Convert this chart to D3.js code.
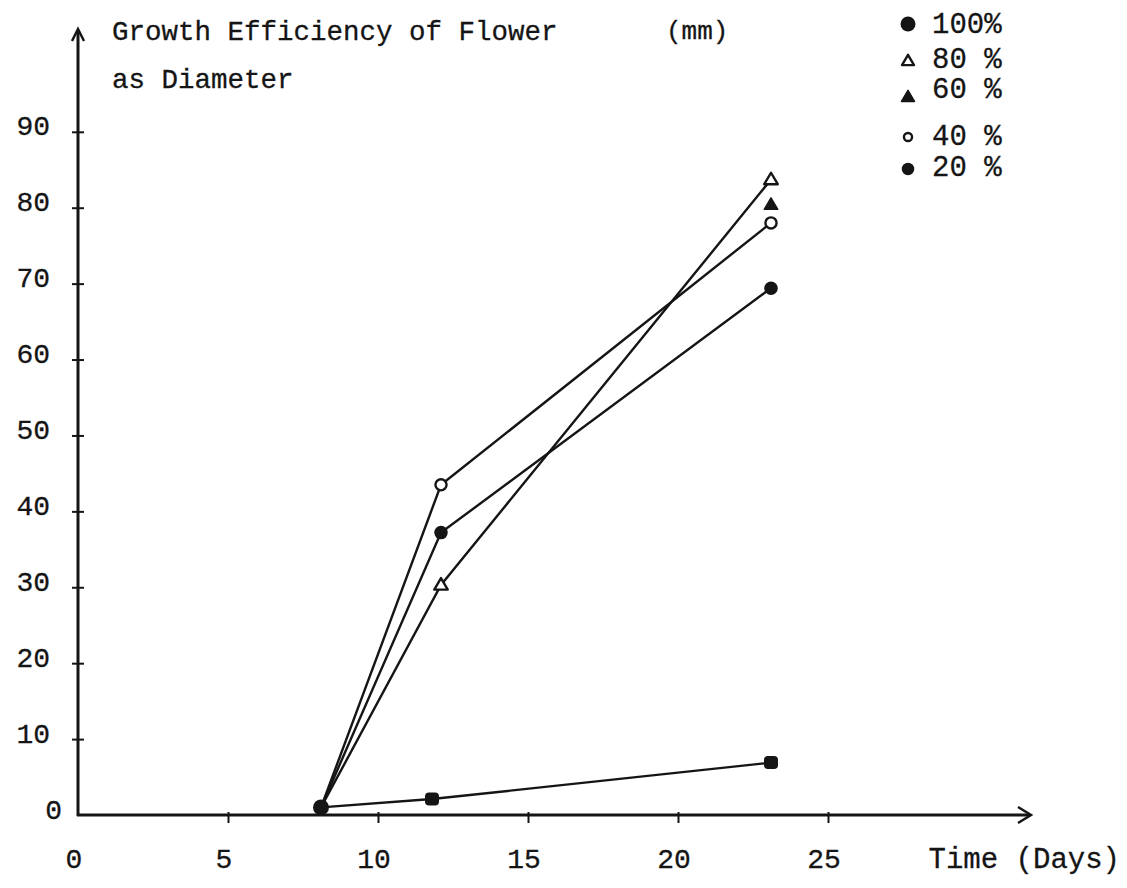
<!DOCTYPE html>
<html>
<head>
<meta charset="utf-8">
<script src="https://cdn.jsdelivr.net/npm/d3@7"></script>
<style>
  body { margin: 0; background: #fff; }
  svg text { font-family: "Liberation Mono", "Courier New", monospace; fill: #151515; stroke: #151515; stroke-width: 0.3; }
</style>
</head>
<body>
<svg id="chart" width="1127" height="888"></svg>
<script>
// Sampling days (x) and flower diameter in mm (y) for each treatment
const days = [8.1, 12.1, 23.1];
const days20 = [8.1, 11.8, 23.1];
const values100 = [1, 37.2, 69.4];
const values80 = [1, 30.3, 83.7];
const values60 = [1, null, 80.4];
const values40 = [1, 43.5, 78.0];
const values20 = [1, 2.1, 6.9];

const seriesLabels = ["100%", "80 %", "60 %", "40 %", "20 %"];
const xTickValues = [0, 5, 10, 15, 20, 25];
const yTickValues = [0, 10, 20, 30, 40, 50, 60, 70, 80, 90];
const titleLines = ["Growth Efficiency of Flower", "as Diameter"];
const unitLabel = "(mm)";
const xAxisLabel = "Time (Days)";

const ink = "#151515";
const svg = d3.select("#chart");

const x = d3.scaleLinear().domain([0, 25]).range([78, 828]);
const y = d3.scaleLinear().domain([0, 90]).range([815, 131.8]);

const series = [
  { name: seriesLabels[0], xs: days,   vals: values100, shape: "dot",   line: true },
  { name: seriesLabels[1], xs: days,   vals: values80,  shape: "otri",  line: true },
  { name: seriesLabels[2], xs: days,   vals: values60,  shape: "ftri",  line: false },
  { name: seriesLabels[3], xs: days,   vals: values40,  shape: "ocirc", line: true },
  { name: seriesLabels[4], xs: days20, vals: values20,  shape: "sq",    line: true }
];

// ---- axes ----
const x0 = x(0), y0 = y(0);

// y axis with crossing ticks
const yAxis = d3.axisLeft(y).tickValues(yTickValues.filter(d => d > 0)).tickSize(6).tickFormat("");
const gy = svg.append("g").attr("transform", `translate(${x0},0)`).call(yAxis);
gy.select(".domain").remove();
gy.selectAll(".tick line").attr("x1", 6).attr("x2", -6).attr("stroke", ink).attr("stroke-width", 2);

svg.append("line").attr("x1", x0).attr("y1", y0 + 1).attr("x2", x0).attr("y2", 30)
  .attr("stroke", ink).attr("stroke-width", 3);
svg.append("path").attr("d", `M${x0 - 6},${41} L${x0},${29} L${x0 + 6},${41}`)
  .attr("fill", "none").attr("stroke", ink).attr("stroke-width", 2.5);

// y tick labels
svg.append("g").selectAll("text").data(yTickValues).join("text")
  .attr("x", d => d === 0 ? x0 - 16 : x0 - 28)
  .attr("y", d => y(d) - 4)
  .attr("text-anchor", "end")
  .attr("dominant-baseline", "central")
  .attr("font-size", 28)
  .text(d => d);

// x axis
const xAxis = d3.axisBottom(x).tickValues(xTickValues.filter(d => d > 0)).tickSize(8).tickFormat("");
const gx = svg.append("g").attr("transform", `translate(0,${y0})`).call(xAxis);
gx.select(".domain").remove();
gx.selectAll(".tick line").attr("y1", -3).attr("stroke", ink).attr("stroke-width", 2);

svg.append("line").attr("x1", x0 - 1).attr("y1", y0).attr("x2", 1030).attr("y2", y0)
  .attr("stroke", ink).attr("stroke-width", 3);
svg.append("path").attr("d", `M${1018},${y0 - 8} L${1031},${y0} L${1018},${y0 + 8}`)
  .attr("fill", "none").attr("stroke", ink).attr("stroke-width", 2.5);

svg.append("g").selectAll("text").data(xTickValues).join("text")
  .attr("x", d => x(d) - 4)
  .attr("y", 860)
  .attr("text-anchor", "middle")
  .attr("dominant-baseline", "central")
  .attr("font-size", 28)
  .text(d => d);

svg.append("text").attr("x", 1120).attr("y", 860)
  .attr("text-anchor", "end").attr("dominant-baseline", "central")
  .attr("font-size", 29).text(xAxisLabel);

// ---- titles ----
svg.append("text").attr("x", 112).attr("y", 32).attr("dominant-baseline", "central")
  .attr("font-size", 27.5).text(titleLines[0]);
svg.append("text").attr("x", 666).attr("y", 32).attr("dominant-baseline", "central")
  .attr("font-size", 26).text(unitLabel);
svg.append("text").attr("x", 112).attr("y", 80).attr("dominant-baseline", "central")
  .attr("font-size", 27.5).text(titleLines[1]);

// ---- series lines ----
const line = d3.line()
  .defined(d => d.v != null)
  .x(d => x(d.t))
  .y(d => y(d.v));

series.filter(s => s.line).forEach(s => {
  const pts = s.xs.map((t, i) => ({ t, v: s.vals[i] }));
  svg.append("path").datum(pts).attr("d", line)
    .attr("fill", "none").attr("stroke", ink).attr("stroke-width", 2.4);
});

// ---- markers ----
function triPath(cx, cy, w) {
  const h = w * 0.85;
  return `M${cx},${cy - h * 0.6} L${cx + w / 2},${cy + h * 0.4} L${cx - w / 2},${cy + h * 0.4} Z`;
}

function drawMarker(g, shape, cx, cy, size) {
  if (shape === "dot") {
    g.append("circle").attr("cx", cx).attr("cy", cy).attr("r", size / 2).attr("fill", ink);
  } else if (shape === "ocirc") {
    g.append("circle").attr("cx", cx).attr("cy", cy).attr("r", size / 2 - 1.2)
      .attr("fill", "#fff").attr("stroke", ink).attr("stroke-width", 2.4);
  } else if (shape === "otri") {
    g.append("path").attr("d", triPath(cx, cy, size))
      .attr("fill", "#fff").attr("stroke", ink).attr("stroke-width", 2.4).attr("stroke-linejoin", "round");
  } else if (shape === "ftri") {
    g.append("path").attr("d", triPath(cx, cy, size))
      .attr("fill", ink).attr("stroke", ink).attr("stroke-width", 1.5).attr("stroke-linejoin", "round");
  } else if (shape === "sq") {
    g.append("rect").attr("x", cx - size / 2).attr("y", cy - size / 2 + 0.5)
      .attr("width", size).attr("height", size - 1).attr("rx", 4).attr("fill", ink);
  }
}

const gm = svg.append("g");
series.forEach(s => {
  s.vals.forEach((v, i) => {
    if (v == null || i === 0) return;
    drawMarker(gm, s.shape, x(s.xs[i]), y(v), s.shape === "sq" ? 14 : 13.5);
  });
});
// common starting point shared by all treatments
drawMarker(gm, "dot", x(days[0]), y(values100[0]), 16);

// ---- legend ----
const legendRows = [
  { shape: "dot", y: 24, tx: 25, size: 15 },
  { shape: "otri", y: 61, tx: 60, size: 12 },
  { shape: "ftri", y: 97, tx: 90, size: 13 },
  { shape: "ocirc", y: 137, tx: 137, size: 10.5 },
  { shape: "dot", y: 169, tx: 168, size: 12.5 }
];
const gl = svg.append("g");
legendRows.forEach((r, i) => {
  drawMarker(gl, r.shape, 908, r.y, r.size);
  gl.append("text").attr("x", 932).attr("y", r.tx).attr("dominant-baseline", "central")
    .attr("font-size", 29).text(seriesLabels[i]);
});
</script>
</body>
</html>
